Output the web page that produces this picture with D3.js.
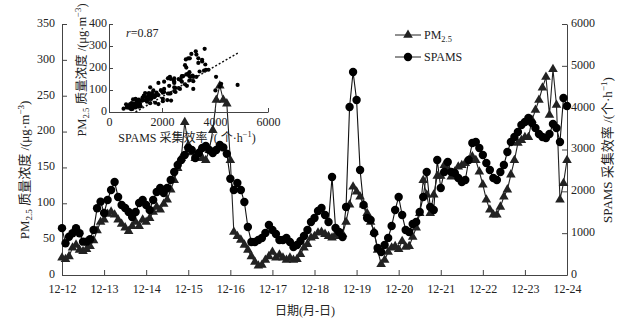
<!DOCTYPE html>
<html>
<head>
<meta charset="utf-8">
<script src="https://cdn.jsdelivr.net/npm/d3@7/dist/d3.min.js"></script>
<style>
  body { margin: 0; background: #fff; }
  text { font-family: "Liberation Serif", "Times New Roman", "Noto Sans CJK SC", serif; fill: #222; }
</style>
</head>
<body>
<svg id="chart" width="620" height="325"></svg>
<script>
// tick labels and series (2-hourly samples from 12-12 00:00 to 12-24 00:00)
const dayLabels = ["12-12","12-13","12-14","12-15","12-16","12-17","12-18","12-19","12-20","12-21","12-22","12-23","12-24"];
const stepHours = 2;

const pm25 = [
  24, 22, 26, 38, 42, 35, 33, 36, 40, 48, 62, 74,
  77, 85, 88, 84, 77, 71, 66, 61, 68, 74, 68, 77,
  74, 79, 88, 95, 91, 99, 105, 119, 132, 149, 163, 213,
  181, 171, 163, 171, 163, 160, 174, 202, 244, 264, 244, 239,
  160, 60, 54, 49, 42, 35, 26, 18, 13, 14, 21, 26,
  32, 24, 28, 24, 21, 24, 21, 22, 29, 38, 43, 52,
  54, 59, 60, 57, 54, 52, 56, 54, 57, 74, 98, 123,
  116, 109, 98, 86, 74, 60, 35, 15, 21, 32, 38, 40,
  36, 47, 39, 40, 53, 66, 86, 132, 112, 86, 112, 138,
  138, 153, 146, 137, 144, 151, 153, 156, 160, 165, 160, 144,
  126, 105, 91, 84, 84, 95, 109, 119, 140, 160, 184, 188,
  192, 192, 216, 230, 244, 261, 276, 223, 287, 237, 105, 128, 160
];

const spams = [
  1120, 757, 916, 997, 1116, 997, 797, 797, 853, 1076, 1594, 1753,
  1482, 1793, 2032, 2223, 1865, 1673, 1602, 1506, 1387, 1506, 1721, 1793,
  1673, 1554, 1793, 1984, 2080, 1960, 2080, 2271, 2462, 2630, 2749, 2869,
  3036, 2988, 2797, 2917, 3036, 3084, 2988, 2917, 2988, 3108, 3050, 2900,
  2300, 2032, 2199, 2032, 1745, 1147, 789, 789, 837, 885, 1004, 1195,
  1076, 980, 837, 837, 885, 789, 669, 717, 813, 932, 1076, 1267,
  1363, 1530, 1602, 1434, 1267, 2342, 1124, 1028, 908, 1625, 4016, 4853,
  4184, 2510, 1673, 1363, 1315, 1004, 645, 550, 717, 885, 1171, 1554,
  1865, 1434, 1076, 1028, 1219, 1267, 1506, 1865, 2462, 1625, 1554, 2749,
  2080, 2462, 2701, 2462, 2438, 2319, 2223, 2271, 2749, 3156, 3180, 3036,
  2869, 2677, 2510, 2319, 2271, 2462, 2630, 2940, 3180, 3299, 3419, 3586,
  3658, 3753, 3634, 3514, 3371, 3299, 3275, 3371, 3610, 3514, 3180, 4231, 4040
];

const pmTicks = [0, 50, 100, 150, 200, 250, 300, 350];
const spamsTicks = [0, 1000, 2000, 3000, 4000, 5000, 6000];
const insetXTicks = [0, 2000, 4000, 6000];
const insetYTicks = [0, 100, 200, 300, 400];
const fitLine = [[1000, 0], [4870, 268]];
const rValue = "0.87";

const svg = d3.select("#chart");
const plain = d3.format("d");

// main scales
const x = d3.scaleLinear().domain([0, (dayLabels.length - 1) * 24]).range([62, 567]);
const yL = d3.scaleLinear().domain([0, 350]).range([275, 24]);
const yR = d3.scaleLinear().domain([0, 6000]).range([275, 24]);

const pts = pm25.map((d, i) => ({t: i * stepHours, pm: d, sp: spams[i]}));

// axes, ticks pointing inward
svg.append("g")
    .attr("transform", "translate(0,275)")
    .call(d3.axisBottom(x).tickValues(dayLabels.map((d, i) => i * 24))
        .tickFormat((d, i) => dayLabels[i]).tickSizeInner(-5).tickSizeOuter(0).tickPadding(9))
    .call(g => g.selectAll("text").attr("font-size", 12));

svg.append("g")
    .attr("transform", "translate(62,0)")
    .call(d3.axisLeft(yL).tickValues(pmTicks).tickSizeInner(-5).tickSizeOuter(0).tickPadding(7))
    .call(g => g.selectAll("text").attr("font-size", 12).attr("dy", "0.2em"));

svg.append("g")
    .attr("transform", "translate(567,0)")
    .call(d3.axisRight(yR).tickValues(spamsTicks).tickFormat(plain)
        .tickSizeInner(-5).tickSizeOuter(0).tickPadding(4))
    .call(g => g.selectAll("text").attr("font-size", 12).attr("dy", "0.2em"));

svg.selectAll(".domain, .tick line").attr("stroke", "#444");

// axis titles
function pmTitle(sel) {
  sel.append("tspan").text("PM");
  sel.append("tspan").attr("font-size", "0.7em").attr("dy", 3).text("2.5");
  sel.append("tspan").attr("dy", -3).text(" 质量浓度 /(μg·m");
  sel.append("tspan").attr("font-size", "0.7em").attr("dy", -5).text("−3");
  sel.append("tspan").attr("dy", 5).text(")");
}

svg.append("text")
    .attr("transform", "translate(29,170) rotate(-90)")
    .attr("text-anchor", "middle").attr("font-size", 13)
    .call(pmTitle);

const rt = svg.append("text")
    .attr("transform", "translate(612,150) rotate(-90)")
    .attr("text-anchor", "middle").attr("font-size", 13);
rt.append("tspan").text("SPAMS 采集效率 /(个·h");
rt.append("tspan").attr("font-size", "0.7em").attr("dy", -5).text("−1");
rt.append("tspan").attr("dy", 5).text(")");

svg.append("text")
    .attr("x", 305).attr("y", 315)
    .attr("text-anchor", "middle").attr("font-size", 12)
    .text("日期(月-日)");

// series
const pmLine = d3.line().x(d => x(d.t)).y(d => yL(d.pm));
const spLine = d3.line().x(d => x(d.t)).y(d => yR(d.sp));

svg.append("path").datum(pts).attr("d", spLine)
    .attr("fill", "none").attr("stroke", "#111").attr("stroke-width", 1.1);
svg.append("path").datum(pts).attr("d", pmLine)
    .attr("fill", "none").attr("stroke", "#222").attr("stroke-width", 1.1);

const tri = d3.symbol(d3.symbolTriangle, 40);

svg.append("g").selectAll("path").data(pts).join("path")
    .attr("d", tri)
    .attr("transform", d => `translate(${x(d.t)},${yL(d.pm)})`)
    .attr("fill", "#222");

svg.append("g").selectAll("circle").data(pts).join("circle")
    .attr("cx", d => x(d.t)).attr("cy", d => yR(d.sp)).attr("r", 4.2)
    .attr("fill", "#000");

// legend
const legend = [
  {name: "PM", sub: "2.5", marker: "tri"},
  {name: "SPAMS", sub: "", marker: "circle"}
];
const lg = svg.append("g").selectAll("g").data(legend).join("g")
    .attr("transform", (d, i) => `translate(395,${35 + i * 22})`);
lg.append("line").attr("x1", 0).attr("x2", 26).attr("stroke", "#222");
lg.filter(d => d.marker === "tri").append("path").attr("d", tri)
    .attr("transform", "translate(13,0)").attr("fill", "#222");
lg.filter(d => d.marker === "circle").append("circle")
    .attr("cx", 13).attr("r", 4.2).attr("fill", "#000");
const lt = lg.append("text").attr("x", 29).attr("y", 4).attr("font-size", 12);
lt.append("tspan").text(d => d.name);
lt.append("tspan").attr("font-size", "0.7em").attr("dy", 3).text(d => d.sub);

// inset scatter
const ix = d3.scaleLinear().domain([0, 6000]).range([109, 268]);
const iy = d3.scaleLinear().domain([0, 400]).range([112, 24]);

svg.append("g")
    .attr("transform", "translate(0,112)")
    .call(d3.axisBottom(ix).tickValues(insetXTicks).tickFormat(plain)
        .tickSizeInner(-4).tickSizeOuter(0).tickPadding(5))
    .call(g => g.selectAll("text").attr("font-size", 12));

svg.append("g")
    .attr("transform", "translate(109,0)")
    .call(d3.axisLeft(iy).tickValues(insetYTicks).tickSizeInner(-4).tickSizeOuter(0).tickPadding(2))
    .call(g => g.selectAll("text").attr("font-size", 12).attr("dy", "0.2em"));

svg.selectAll(".domain, .tick line").attr("stroke", "#444");

svg.append("g").selectAll("circle").data(pts).join("circle")
    .attr("cx", d => ix(d.sp)).attr("cy", d => iy(d.pm)).attr("r", 2.1)
    .attr("fill", "#000");

svg.append("path").datum(fitLine)
    .attr("d", d3.line().x(d => ix(d[0])).y(d => iy(d[1])))
    .attr("fill", "none").attr("stroke", "#111").attr("stroke-width", 1.5)
    .attr("stroke-dasharray", "2,2");

const rlab = svg.append("text").attr("x", 126).attr("y", 37).attr("font-size", 12);
rlab.append("tspan").attr("font-style", "italic").text("r");
rlab.append("tspan").text("=" + rValue);

svg.append("text")
    .attr("transform", "translate(86,70) rotate(-90)")
    .attr("text-anchor", "middle").attr("font-size", 12.5)
    .call(pmTitle);

const ixt = svg.append("text")
    .attr("x", 187).attr("y", 142)
    .attr("text-anchor", "middle").attr("font-size", 12);
ixt.append("tspan").text("SPAMS 采集效率 /( 个·h");
ixt.append("tspan").attr("font-size", "0.7em").attr("dy", -5).text("−1");
ixt.append("tspan").attr("dy", 5).text(")");
</script>
</body>
</html>
